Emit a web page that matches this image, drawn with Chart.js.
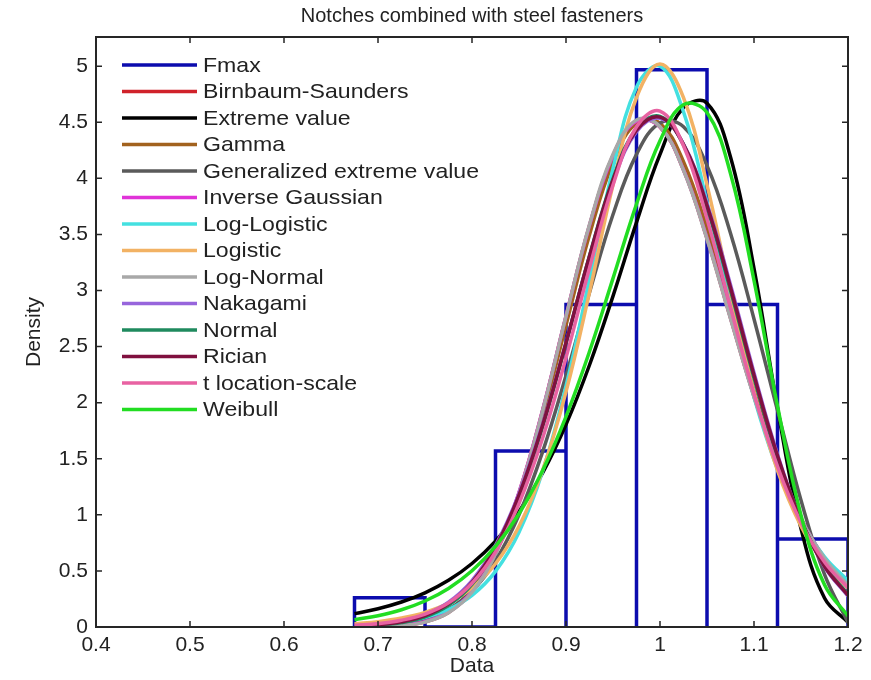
<!DOCTYPE html>
<html>
<head>
<meta charset="utf-8">
<title>Notches combined with steel fasteners</title>
<script src="https://cdn.jsdelivr.net/npm/chart.js@4.4.1/dist/chart.umd.min.js"></script>
<style>
  html, body { margin: 0; padding: 0; background: #fff; }
  #wrap { width: 871px; height: 680px; }
</style>
</head>
<body>
<div id="wrap"><canvas id="fitChart" width="871" height="680"></canvas></div>
<script>
// ── Histogram (density-normalised) ──
const binEdges   = [0.675, 0.75, 0.825, 0.9, 0.975, 1.05, 1.125, 1.2];
const binDensity = [0.261, 0, 1.569, 2.876, 4.967, 2.876, 0.784];

// ── Fitted pdf curves, sampled on a common x grid ──
const xGrid = [0.675, 0.7, 0.725, 0.75, 0.775, 0.8, 0.825, 0.85, 0.875, 0.9, 0.925,
               0.95, 0.975, 1.0, 1.025, 1.05, 1.075, 1.1, 1.125, 1.15, 1.175, 1.2];

const birnbaumSaunders = [0.001, 0.004, 0.014, 0.046, 0.130, 0.314, 0.655, 1.195, 1.926, 2.768, 3.580,
                          4.203, 4.513, 4.458, 4.075, 3.464, 2.755, 2.057, 1.449, 0.966, 0.611, 0.369];
const extremeValue     = [0.119, 0.163, 0.223, 0.305, 0.416, 0.566, 0.765, 1.029, 1.371, 1.804, 2.336,
                          2.950, 3.607, 4.214, 4.630, 4.670, 4.190, 3.197, 1.954, 0.878, 0.258, 0.042];
const gammaFit         = [0.003, 0.007, 0.022, 0.059, 0.149, 0.333, 0.663, 1.179, 1.876, 2.690, 3.496,
                          4.141, 4.495, 4.491, 4.148, 3.552, 2.833, 2.107, 1.467, 0.960, 0.591, 0.345];
const genExtremeValue  = [0.004, 0.011, 0.029, 0.071, 0.158, 0.320, 0.590, 1.001, 1.559, 2.242, 2.982,
                          3.677, 4.214, 4.494, 4.460, 4.113, 3.510, 2.746, 1.931, 1.130, 0.470, 0.040];
const inverseGaussian  = [0.001, 0.004, 0.015, 0.048, 0.133, 0.318, 0.660, 1.200, 1.930, 2.770, 3.579,
                          4.200, 4.510, 4.457, 4.077, 3.468, 2.760, 2.061, 1.452, 0.968, 0.612, 0.368];
const logLogistic      = [0.011, 0.023, 0.044, 0.084, 0.156, 0.282, 0.496, 0.845, 1.384, 2.148, 3.104,
                          4.089, 4.813, 5.000, 4.592, 3.787, 2.870, 2.048, 1.406, 0.944, 0.626, 0.413];
const logisticFit      = [0.029, 0.048, 0.080, 0.131, 0.214, 0.349, 0.564, 0.898, 1.395, 2.096, 2.984,
                          3.942, 4.720, 5.020, 4.720, 3.942, 2.984, 2.096, 1.395, 0.898, 0.564, 0.349];
const logNormal        = [0.001, 0.003, 0.013, 0.044, 0.127, 0.310, 0.650, 1.191, 1.924, 2.771, 3.588,
                          4.214, 4.521, 4.460, 4.072, 3.458, 2.748, 2.051, 1.445, 0.965, 0.612, 0.371];
const nakagami         = [0.010, 0.024, 0.052, 0.111, 0.221, 0.414, 0.727, 1.190, 1.806, 2.537, 3.300,
                          3.971, 4.415, 4.535, 4.305, 3.774, 3.052, 2.267, 1.539, 0.953, 0.536, 0.274];
const normalFit        = [0.006, 0.016, 0.039, 0.090, 0.193, 0.380, 0.690, 1.156, 1.781, 2.528, 3.311,
                          3.996, 4.443, 4.553, 4.299, 3.741, 3.002, 2.220, 1.512, 0.951, 0.549, 0.293];
const rician           = [0.008, 0.020, 0.046, 0.101, 0.208, 0.398, 0.710, 1.175, 1.795, 2.534, 3.305,
                          3.984, 4.430, 4.545, 4.302, 3.758, 3.027, 2.244, 1.526, 0.952, 0.542, 0.283];
const tLocationScale   = [0.015, 0.030, 0.060, 0.115, 0.215, 0.390, 0.670, 1.100, 1.680, 2.400, 3.200,
                          3.940, 4.460, 4.600, 4.290, 3.640, 2.850, 2.080, 1.430, 0.930, 0.580, 0.350];
const weibullFit       = [0.065, 0.101, 0.154, 0.232, 0.344, 0.501, 0.718, 1.010, 1.393, 1.876, 2.456,
                          3.108, 3.770, 4.335, 4.656, 4.586, 4.043, 3.091, 1.971, 0.997, 0.376, 0.098];

const seriesNames = ['Fmax', 'Birnbaum-Saunders', 'Extreme value', 'Gamma', 'Generalized extreme value',
                     'Inverse Gaussian', 'Log-Logistic', 'Logistic', 'Log-Normal', 'Nakagami',
                     'Normal', 'Rician', 't location-scale', 'Weibull'];
const fitCurves = [birnbaumSaunders, extremeValue, gammaFit, genExtremeValue, inverseGaussian,
                   logLogistic, logisticFit, logNormal, nakagami, normalFit, rician,
                   tLocationScale, weibullFit];

const xTicks = [0.4, 0.5, 0.6, 0.7, 0.8, 0.9, 1, 1.1, 1.2];
const yTicks = [0, 0.5, 1, 1.5, 2, 2.5, 3, 3.5, 4, 4.5, 5];

const COLORS = ['#0c0cae', '#d0222a', '#000000', '#a2621e', '#5a5a5a', '#e033d8', '#44e0e0',
                '#f2b264', '#a8a8a8', '#9765dc', '#1f8a5e', '#80103f', '#e862a2', '#22dd22'];

const FONT = "'Liberation Sans', Arial, sans-serif";
const INK = '#222222';

// ── Histogram outline: each bin as an open rectangle ──
const histPoints = [];
binDensity.forEach((h, i) => {
  histPoints.push({ x: binEdges[i], y: 0 }, { x: binEdges[i], y: h },
                  { x: binEdges[i + 1], y: h }, { x: binEdges[i + 1], y: 0 });
});

const datasets = [{
  label: seriesNames[0],
  data: histPoints,
  borderColor: COLORS[0],
  borderWidth: 3.5,
  tension: 0,
  pointRadius: 0,
  fill: false,
  order: seriesNames.length
}];
fitCurves.forEach((vals, k) => {
  datasets.push({
    label: seriesNames[k + 1],
    data: xGrid.map((x, i) => ({ x, y: vals[i] })),
    borderColor: COLORS[k + 1],
    borderWidth: 3.5,
    tension: 0.4,
    pointRadius: 0,
    fill: false,
    borderJoinStyle: 'round',
    order: seriesNames.length - (k + 1)   // later series drawn on top
  });
});

// ── Box, inward tick marks and in-axes legend (MATLAB look) ──
const axesBox = {
  id: 'axesBox',
  afterDatasetsDraw(chart) {
    const { ctx, chartArea: a, scales: { x, y } } = chart;
    ctx.save();
    ctx.strokeStyle = '#262626';
    ctx.lineWidth = 1.5;
    ctx.beginPath();
    xTicks.forEach(v => {
      const px = x.getPixelForValue(v);
      ctx.moveTo(px, a.bottom); ctx.lineTo(px, a.bottom - 6);
      ctx.moveTo(px, a.top);    ctx.lineTo(px, a.top + 6);
    });
    yTicks.forEach(v => {
      const py = y.getPixelForValue(v);
      ctx.moveTo(a.left, py);  ctx.lineTo(a.left + 6, py);
      ctx.moveTo(a.right, py); ctx.lineTo(a.right - 6, py);
    });
    ctx.stroke();
    ctx.lineWidth = 2;
    ctx.strokeRect(a.left, a.top, a.right - a.left, a.bottom - a.top);

    // legend (text slightly stretched, like the exported figure)
    ctx.font = '21px ' + FONT;
    ctx.textBaseline = 'middle';
    ctx.textAlign = 'left';
    seriesNames.forEach((name, i) => {
      const ly = a.top + 28 + i * 26.5;
      ctx.strokeStyle = COLORS[i];
      ctx.lineWidth = 3.5;
      ctx.beginPath();
      ctx.moveTo(a.left + 26, ly);
      ctx.lineTo(a.left + 101, ly);
      ctx.stroke();
      ctx.save();
      ctx.translate(a.left + 107, ly + 1);
      ctx.scale(1.1, 1);
      ctx.fillStyle = INK;
      ctx.fillText(name, 0, 0);
      ctx.restore();
    });
    ctx.restore();
  }
};

const tickLabel = v => String(+Number(v).toFixed(2));

new Chart(document.getElementById('fitChart').getContext('2d'), {
  type: 'line',
  data: { datasets },
  plugins: [axesBox],
  options: {
    responsive: false,
    animation: false,
    layout: { padding: { left: 0, right: 23, top: 0, bottom: 0 } },
    scales: {
      x: {
        type: 'linear',
        min: 0.4, max: 1.2,
        afterBuildTicks: s => { s.ticks = xTicks.map(v => ({ value: v })); },
        afterFit: s => { s.height = 53; },
        grid: { display: false, drawTicks: false },
        border: { display: false },
        ticks: { font: { family: FONT, size: 21 }, color: INK, padding: 6, maxRotation: 0,
                 callback: tickLabel },
        title: { display: true, text: 'Data', color: INK,
                 font: { family: FONT, size: 21 }, padding: { top: 0, bottom: 1 } }
      },
      y: {
        type: 'linear',
        min: 0, max: 5.26,
        afterBuildTicks: s => { s.ticks = yTicks.map(v => ({ value: v })); },
        afterFit: s => { s.width = 96; },
        grid: { display: false, drawTicks: false },
        border: { display: false },
        ticks: { font: { family: FONT, size: 21 }, color: INK, padding: 8,
                 callback: tickLabel },
        title: { display: true, text: 'Density', color: INK,
                 font: { family: FONT, size: 21 }, padding: { top: 22, bottom: 0 } }
      }
    },
    plugins: {
      legend: { display: false },
      tooltip: { enabled: false },
      title: {
        display: true,
        fullSize: false,
        text: 'Notches combined with steel fasteners',
        color: INK,
        font: { family: FONT, size: 20, weight: 'normal', lineHeight: 1.2 },
        padding: { top: 4, bottom: 9 }
      }
    }
  }
});
</script>
</body>
</html>
